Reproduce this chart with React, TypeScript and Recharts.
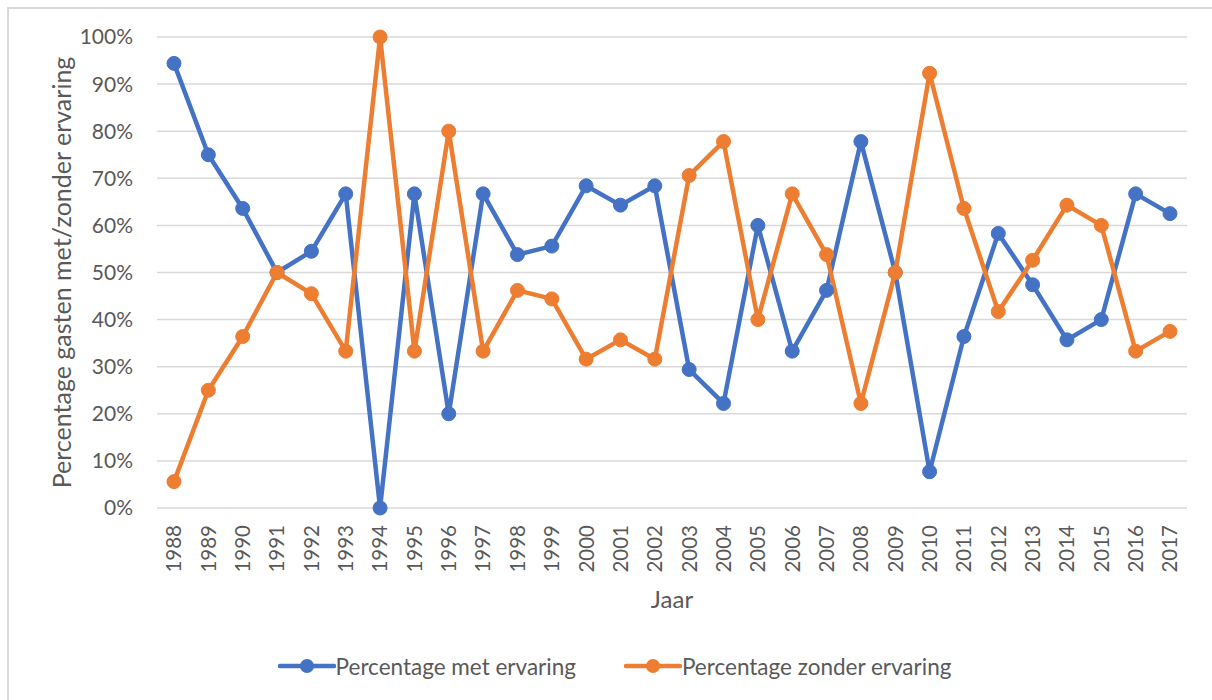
import React from "react";
import { CartesianGrid, Label, Legend, Line, LineChart, XAxis, YAxis } from "recharts";

const years = [
  "1988", "1989", "1990", "1991", "1992", "1993", "1994", "1995", "1996", "1997",
  "1998", "1999", "2000", "2001", "2002", "2003", "2004", "2005", "2006", "2007",
  "2008", "2009", "2010", "2011", "2012", "2013", "2014", "2015", "2016", "2017"
];

const metErvaring = [
  94.4, 75, 63.6, 50, 54.5, 66.7, 0, 66.7, 20, 66.7,
  53.8, 55.6, 68.4, 64.3, 68.4, 29.4, 22.2, 60, 33.3, 46.2,
  77.8, 50, 7.7, 36.4, 58.3, 47.4, 35.7, 40, 66.7, 62.5
];

const zonderErvaring = [
  5.6, 25, 36.4, 50, 45.5, 33.3, 100, 33.3, 80, 33.3,
  46.2, 44.4, 31.6, 35.7, 31.6, 70.6, 77.8, 40, 66.7, 53.8,
  22.2, 50, 92.3, 63.6, 41.7, 52.6, 64.3, 60, 33.3, 37.5
];

const yTicks = [0, 10, 20, 30, 40, 50, 60, 70, 80, 90, 100];

const BLUE = "#4472C4";
const ORANGE = "#ED7D31";
const TEXT = "#595959";
const FONT = "Lato, 'Open Sans', sans-serif";

const rows = years.map((year, i) => ({
  year,
  met: metErvaring[i],
  zonder: zonderErvaring[i]
}));

function YearTick({ x, y, payload }: any) {
  return (
    <g transform={`translate(${x},${y + 9}) rotate(-90)`}>
      <text x={0} y={0} dy="0.36em" textAnchor="end" fill={TEXT} fontSize={20.5} fontFamily={FONT}>
        {payload.value}
      </text>
    </g>
  );
}

function LegendContent() {
  const items = [
    { name: "Percentage met ervaring", color: BLUE },
    { name: "Percentage zonder ervaring", color: ORANGE }
  ];
  return (
    <div style={{ display: "flex", justifyContent: "center", height: 30, alignItems: "center", gap: 48, paddingLeft: 42 }}>
      {items.map((it) => (
        <div key={it.name} style={{ display: "flex", alignItems: "center" }}>
          <svg width={58} height={16}>
            <line x1={2} y1={8} x2={56} y2={8} stroke={it.color} strokeWidth={4.5} strokeLinecap="round" />
            <circle cx={29} cy={8} r={7} fill={it.color} />
          </svg>
          <span style={{ color: TEXT, fontSize: 22.5, fontFamily: FONT }}>{it.name}</span>
        </div>
      ))}
    </div>
  );
}

export default function App() {
  return (
    <div style={{ position: "fixed", left: 0, top: 0, width: 1212, height: 700, background: "#fff" }}>
      <div
        style={{
          position: "absolute",
          left: 7,
          top: 7,
          width: 1220,
          height: 720,
          border: "2px solid #d9d9d9",
          boxSizing: "border-box"
        }}
      />
      <div style={{ position: "absolute", left: 0, top: 0 }}>
        <LineChart width={1212} height={700} data={rows} margin={{ top: 37, right: 25, left: 0, bottom: 19 }}>
          <CartesianGrid vertical={false} stroke="#d9d9d9" strokeWidth={1.5} />
          <XAxis
            dataKey="year"
            interval={0}
            tickLine={false}
            axisLine={false}
            height={143}
            padding={{ left: 17, right: 17 }}
            tick={<YearTick />}
          >
            <Label
              content={({ viewBox }: any) => (
                <text
                  x={viewBox.x + viewBox.width / 2}
                  y={viewBox.y + 100}
                  textAnchor="middle"
                  fill={TEXT}
                  fontSize={24}
                  fontFamily={FONT}
                >
                  Jaar
                </text>
              )}
            />
          </XAxis>
          <YAxis
            width={157}
            domain={[0, 100]}
            ticks={yTicks}
            tickLine={false}
            axisLine={false}
            tickMargin={18}
            tickFormatter={(v: number) => `${v}%`}
            tick={{ fill: TEXT, fontSize: 21, fontFamily: FONT }}
          >
            <Label
              content={({ viewBox }: any) => {
                const cy = viewBox.y + viewBox.height / 2;
                return (
                  <text
                    transform={`translate(62,${cy}) rotate(-90)`}
                    x={0}
                    y={0}
                    dy="0.35em"
                    textAnchor="middle"
                    fill={TEXT}
                    fontSize={25}
                    fontFamily={FONT}
                  >
                    Percentage gasten met/zonder ervaring
                  </text>
                );
              }}
            />
          </YAxis>
          <Legend verticalAlign="bottom" content={<LegendContent />} />
          <Line
            type="linear"
            dataKey="met"
            name="Percentage met ervaring"
            stroke={BLUE}
            strokeWidth={4.5}
            dot={{ r: 7, fill: BLUE, stroke: BLUE, strokeWidth: 1 }}
            activeDot={false}
            isAnimationActive={false}
          />
          <Line
            type="linear"
            dataKey="zonder"
            name="Percentage zonder ervaring"
            stroke={ORANGE}
            strokeWidth={4.5}
            dot={{ r: 7, fill: ORANGE, stroke: ORANGE, strokeWidth: 1 }}
            activeDot={false}
            isAnimationActive={false}
          />
        </LineChart>
      </div>
    </div>
  );
}
